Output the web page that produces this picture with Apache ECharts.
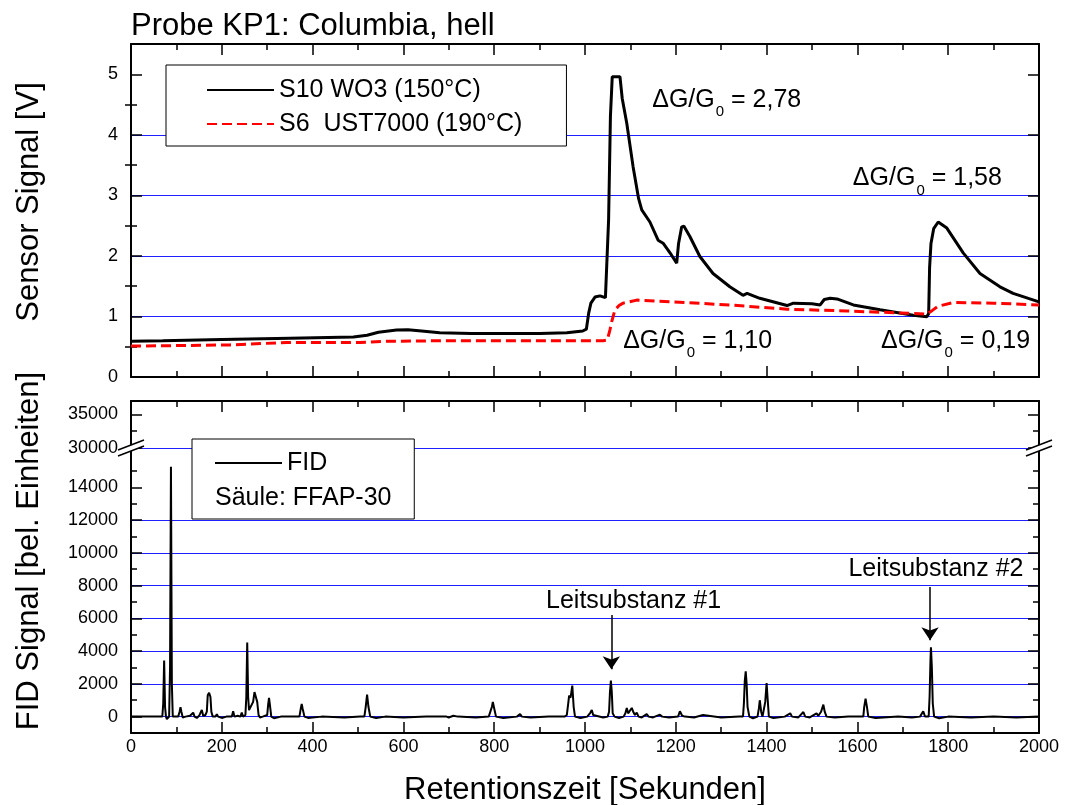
<!DOCTYPE html>
<html>
<head>
<meta charset="utf-8">
<script src="https://cdn.jsdelivr.net/npm/echarts@6.0.0/dist/echarts.min.js"></script>
<style>
html,body{margin:0;padding:0;background:#fff}
#main{width:1066px;height:805px}
</style>
</head>
<body>
<div id="main"></div>
<script>
// sensor traces [time s, signal V]
var s10Data = [[0,0.59],[70,0.60],[200,0.62],[350,0.64],[490,0.66],[520,0.69],[545,0.74],[585,0.775],[610,0.78],[640,0.76],[680,0.73],[750,0.72],[806,0.72],[900,0.72],[960,0.73],[995,0.76],[1003,0.79],[1008,1.05],[1013,1.22],[1022,1.32],[1033,1.34],[1045,1.31],[1049,1.32],[1052,2.6],[1056,4.3],[1060,4.96],[1077,4.96],[1082,4.6],[1092,4.19],[1106,3.47],[1118,2.95],[1125,2.76],[1143,2.56],[1161,2.26],[1172,2.21],[1190,2.02],[1202,1.88],[1206,2.2],[1213,2.48],[1218,2.49],[1231,2.32],[1253,1.99],[1282,1.71],[1319,1.49],[1348,1.35],[1357,1.38],[1385,1.30],[1445,1.18],[1459,1.22],[1500,1.21],[1518,1.19],[1527,1.28],[1540,1.30],[1555,1.29],[1591,1.19],[1650,1.11],[1723,1.02],[1753,0.995],[1757,1.05],[1759,1.8],[1762,2.2],[1768,2.45],[1778,2.56],[1797,2.46],[1833,2.05],[1870,1.71],[1914,1.49],[1943,1.38],[2000,1.24]];
var s6Data = [[0,0.51],[218,0.53],[343,0.57],[504,0.57],[563,0.59],[700,0.60],[1040,0.60],[1049,0.61],[1055,0.78],[1059,0.92],[1066,1.11],[1075,1.18],[1084,1.22],[1114,1.27],[1194,1.24],[1319,1.19],[1445,1.12],[1577,1.09],[1723,1.05],[1753,1.04],[1765,1.10],[1778,1.17],[1811,1.23],[1900,1.22],[2000,1.19]];

// FID chromatogram [time s, signal]
var fidData = [[0,0],[60,0],[69,0],[71,800],[73,3430],[75,600],[77,0],[79,-150],[84,0],[86,3000],[88,15260],[90,2000],[92,0],[95,-100],[104,0],[107,300],[109,570],[111,300],[114,-50],[120,0],[130,50],[134,0],[137,240],[140,0],[145,-80],[150,50],[153,0],[156,410],[159,50],[164,100],[167,300],[169,1300],[172,1460],[175,1200],[177,300],[180,0],[186,0],[189,150],[192,0],[200,-80],[210,0],[222,0],[225,330],[228,0],[235,50],[241,0],[244,240],[247,0],[252,100],[254,1200],[256,4530],[258,1200],[260,400],[263,500],[269,900],[272,1500],[275,1540],[278,900],[281,100],[284,-50],[290,0],[300,100],[302,700],[304,1140],[306,700],[309,0],[315,-100],[330,0],[360,0],[371,0],[374,500],[376,770],[378,500],[382,0],[390,-80],[420,0],[470,-50],[505,0],[514,0],[517,600],[520,1340],[523,600],[527,0],[540,-80],[560,0],[600,-50],[650,0],[690,0],[692,100],[695,0],[700,-50],[710,50],[720,0],[760,-50],[788,0],[792,0],[795,600],[797,900],[800,500],[804,0],[820,-80],[850,0],[857,150],[861,0],[880,-50],[920,0],[955,0],[960,100],[963,800],[965,1280],[968,1150],[970,1500],[972,1890],[975,600],[978,0],[990,-80],[1005,0],[1012,250],[1015,410],[1018,100],[1022,0],[1040,-50],[1050,0],[1053,300],[1055,1500],[1057,2200],[1059,1500],[1061,200],[1065,0],[1075,-80],[1085,0],[1089,200],[1092,530],[1095,200],[1098,300],[1103,530],[1107,250],[1110,100],[1114,240],[1118,0],[1125,-50],[1136,150],[1140,0],[1150,-50],[1165,120],[1170,0],[1185,-50],[1205,0],[1209,330],[1214,50],[1220,0],[1240,-50],[1260,100],[1264,0],[1300,-50],[1340,0],[1348,0],[1350,800],[1352,2200],[1354,2770],[1356,2000],[1358,600],[1362,0],[1370,-100],[1380,0],[1383,500],[1385,1000],[1388,300],[1391,0],[1395,0],[1397,900],[1400,2050],[1402,1200],[1405,0],[1415,-80],[1440,0],[1452,200],[1456,0],[1470,-50],[1481,280],[1485,0],[1495,-50],[1510,200],[1514,50],[1520,300],[1525,730],[1528,300],[1532,0],[1550,-50],[1580,0],[1605,0],[1613,0],[1615,600],[1618,1100],[1621,600],[1624,0],[1640,-80],[1690,0],[1720,-50],[1738,0],[1742,100],[1745,330],[1749,0],[1757,0],[1759,1200],[1761,3500],[1762,4230],[1764,3000],[1766,800],[1769,0],[1780,-100],[1800,0],[1850,-50],[1900,0],[1950,-50],[2000,0]];

var sensorTicks = [0, 1, 2, 3, 4, 5];
var sensorMinor = [0.5, 1.5, 2.5, 3.5, 4.5];
var fidHighTicks = [30000, 35000];
var fidHighMinor = [32500];
var fidLowTicks = [0, 2000, 4000, 6000, 8000, 10000, 12000, 14000];
var fidLowMinor = [1000, 3000, 5000, 7000, 9000, 11000, 13000, 15000];

var dgPos = [[1148, 4.57], [1590, 3.28], [1084, 0.59], [1652, 0.59]];
var dgText = ['2,78', '1,58', '1,10', '0,19'];
var leitText = ['Leitsubstanz #1', 'Leitsubstanz #2'];
var leitPos = [[1107, 7050], [1773, 9000]];
var leitArrow = [[1058, 6200, 2890], [1760, 7920, 4670]];

var FONT = '"Liberation Sans", Arial, sans-serif';
var BLUE = '#1f1fff';

function plain(v) { return String(v); }

function xAx(grid, pos, labels) {
    return {
        type: 'value', gridIndex: grid, position: pos, min: 0, max: 2000, interval: 200,
        axisLine: {show: true, onZero: false, lineStyle: {color: '#000', width: 2}},
        axisTick: {show: true, inside: true, length: 11, lineStyle: {color: '#000', width: 1.5}},
        minorTick: {show: true, splitNumber: 2, length: 6, lineStyle: {color: '#000', width: 1.5}},
        axisLabel: {show: labels, margin: 5, color: '#000', fontSize: 18, fontFamily: FONT, formatter: plain},
        splitLine: {show: false}
    };
}

function yAxes(grid, min, max, step, major, minor) {
    var out = [];
    ['left', 'right'].forEach(function (pos) {
        out.push({
            type: 'value', gridIndex: grid, position: pos, min: min, max: max, interval: step,
            axisLine: {show: true, onZero: false, lineStyle: {color: '#000', width: 2}},
            axisTick: {show: true, inside: true, length: 11, customValues: major, lineStyle: {color: '#000', width: 1.5}},
            axisLabel: {show: pos === 'left', customValues: major, margin: 13, color: '#000', fontSize: 18, fontFamily: FONT, formatter: plain},
            splitLine: {show: pos === 'left', showMinLine: true, showMaxLine: false, lineStyle: {color: BLUE, width: 1}}
        });
        out.push({
            type: 'value', gridIndex: grid, position: pos, min: min, max: max, interval: step,
            axisLine: {show: false},
            axisTick: {show: true, inside: true, length: 6, customValues: minor, lineStyle: {color: '#000', width: 1.5}},
            axisLabel: {show: false},
            splitLine: {show: false}
        });
    });
    return out;
}

function breakMark(x, y) {
    return [
        {type: 'polygon', z: 100, shape: {points: [[x - 13, y + 2], [x + 13, y - 8], [x + 13, y - 2], [x - 13, y + 8]]}, style: {fill: '#fff'}},
        {type: 'line', z: 101, shape: {x1: x - 13, y1: y + 2, x2: x + 13, y2: y - 8}, style: {stroke: '#000', lineWidth: 1.5}},
        {type: 'line', z: 101, shape: {x1: x - 13, y1: y + 8, x2: x + 13, y2: y - 2}, style: {stroke: '#000', lineWidth: 1.5}}
    ];
}

function label(txt, x, y, rot, size) {
    return {
        type: 'text', x: x, y: y, rotation: rot, z: 50,
        style: {text: txt, fontSize: size, fontFamily: FONT, fill: '#000',
            align: 'center', verticalAlign: 'middle', textAlign: 'center', textVerticalAlign: 'middle'}
    };
}

var myChart = echarts.init(document.getElementById('main'));

var legendBase = {
    orient: 'vertical', itemWidth: 67, itemHeight: 14,
    borderColor: '#000', borderWidth: 1, backgroundColor: '#fff',
    itemStyle: {color: 'rgba(0,0,0,0)', borderWidth: 0, opacity: 0},
    textStyle: {fontSize: 25, fontFamily: FONT, color: '#000', lineHeight: 28}
};

var option = {
    animation: false,
    backgroundColor: '#fff',
    title: {
        text: 'Probe KP1: Columbia, hell', left: 131, top: 11, padding: 0,
        textStyle: {fontSize: 31, fontWeight: 'normal', fontFamily: FONT, color: '#000'}
    },
    grid: [
        {left: 131, width: 908, top: 44, height: 333},
        {left: 131, width: 908, top: 401, height: 47},
        {left: 131, width: 908, top: 448, height: 285}
    ],
    xAxis: [xAx(0, 'bottom', false), xAx(0, 'top', false), xAx(1, 'top', false), xAx(2, 'bottom', true)],
    yAxis: [].concat(
        yAxes(0, 0, 5.5, 0.5, sensorTicks, sensorMinor),
        yAxes(1, 30000, 37000, 2500, fidHighTicks, fidHighMinor),
        yAxes(2, -1000, 16400, 1000, fidLowTicks, fidLowMinor)
    ),
    legend: [
        echarts.util.extend({
            left: 166, top: 65, padding: [11, 44, 8, 40], itemGap: 6,
            data: ['S10 WO3 (150°C)', 'S6  UST7000 (190°C)']
        }, legendBase),
        echarts.util.extend({
            left: 192, top: 439, padding: [10, 87, 42, 22],
            data: ['FID']
        }, legendBase)
    ],
    graphic: [].concat(
        breakMark(131, 448),
        breakMark(1039, 448),
        [
            label('Sensor Signal [V]', 29, 202, Math.PI / 2, 31),
            label('FID Signal [bel. Einheiten]', 29, 551, Math.PI / 2, 31),
            label('Retentionszeit [Sekunden]', 585, 790, 0, 31),
            {type: 'text', x: 215, y: 498, z: 50,
                style: {text: 'Säule: FFAP-30', fontSize: 25, fontFamily: FONT, fill: '#000',
                    verticalAlign: 'middle', textVerticalAlign: 'middle'}}
        ]
    ),
    series: [{
        name: 'S10 WO3 (150°C)', type: 'line', xAxisIndex: 0, yAxisIndex: 0,
        data: s10Data, symbol: 'none', color: '#000',
        lineStyle: {color: '#000', width: 3},
        markPoint: {
            symbol: 'circle', symbolSize: 0, silent: true,
            label: {
                show: true, position: 'right', distance: 0,
                formatter: function (p) { return '{a|\u0394G/G}{s|0}{a| = ' + p.name + '}'; },
                rich: {
                    a: {fontSize: 25, fontFamily: FONT, color: '#000'},
                    s: {fontSize: 15, fontFamily: FONT, color: '#000', padding: [24, 0, 0, 1]}
                }
            },
            data: dgPos.map(function (c, i) { return {coord: c, name: dgText[i]}; })
        }
    }, {
        name: 'S6  UST7000 (190°C)', type: 'line', xAxisIndex: 0, yAxisIndex: 0,
        data: s6Data, symbol: 'none', color: '#ff0000',
        lineStyle: {color: '#ff0000', width: 3, type: [10, 5]}
    }, {
        name: 'FID', type: 'line', xAxisIndex: 3, yAxisIndex: 8,
        data: fidData, symbol: 'none', color: '#000',
        lineStyle: {color: '#000', width: 2},
        markPoint: {
            symbol: 'circle', symbolSize: 0, silent: true,
            label: {show: true, position: 'inside', color: '#000', fontSize: 25, fontFamily: FONT,
                formatter: function (p) { return p.name; }},
            data: leitPos.map(function (c, i) { return {coord: c, name: leitText[i]}; })
        },
        markLine: {
            silent: true, symbol: ['none', 'arrow'], symbolSize: 13,
            label: {show: false},
            lineStyle: {color: '#000', width: 1.5, type: 'solid'},
            data: leitArrow.map(function (a) { return [{coord: [a[0], a[1]]}, {coord: [a[0], a[2]]}]; })
        }
    }]
};

myChart.setOption(option);
</script>
</body>
</html>
